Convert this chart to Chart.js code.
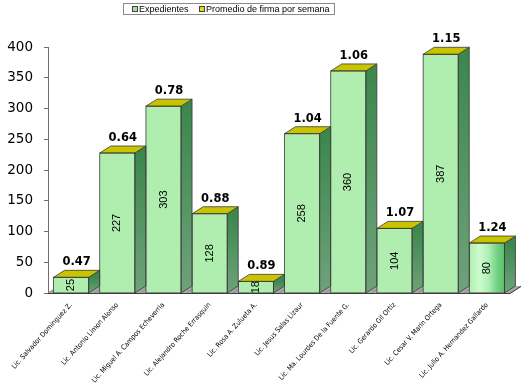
<!DOCTYPE html>
<html>
<head>
<meta charset="utf-8">
<script src="https://cdn.jsdelivr.net/npm/chart.js@4.4.0/dist/chart.umd.min.js"></script>
<style>
  html, body { margin: 0; padding: 0; background: #fff; }
  #myChart { display: block; }
</style>
</head>
<body>
<canvas id="myChart" width="527" height="388"></canvas>
<script>
let categories = [
    "Lic. Salvador Dominguez Z.",
    "Lic. Antonio Limon Alonso",
    "Lic. Miguel A. Campos Echeverria",
    "Lic. Alejandro Roche Errasquin",
    "Lic. Rosa A. Zulueta A.",
    "Lic. Jesus Salas Lizaur",
    "Lic. Ma. Lourdes De la Fuente G.",
    "Lic. Gerardo Gil Ortiz",
    "Lic. Cesar V. Marin Ortega",
    "Lic. Julio A. Hernandez Gallardo",
];
let expedientes = [25, 227, 303, 128, 18, 258, 360, 104, 387, 80];
let promedio = [0.47, 0.64, 0.78, 0.88, 0.89, 1.04, 1.06, 1.07, 1.15, 1.24];
let yTicks = [0, 50, 100, 150, 200, 250, 300, 350, 400];

// profundidad del efecto 3D
const DX = 11;
const DY = 7;

// piso gris, degradado de las caras frontales, caras laterales y etiquetas
const floorAndFaces = {
    id: "floorAndFaces",
    beforeDatasetsDraw(chart) {
        const { ctx, chartArea: a, scales } = chart;
        const base = scales.y.getPixelForValue(0);
        ctx.save();
        ctx.fillStyle = "#a8a8a8";
        ctx.beginPath();
        ctx.moveTo(a.left, base);
        ctx.lineTo(a.left + DX, base - DY);
        ctx.lineTo(a.right + DX, base - DY);
        ctx.lineTo(a.right, base);
        ctx.closePath();
        ctx.fill();
        ctx.strokeStyle = "#8c8c8c";
        ctx.lineWidth = 1;
        for (let i = 0; i <= categories.length; i++) {
            let xp = a.left + (a.right - a.left) * i / categories.length;
            ctx.beginPath();
            ctx.moveTo(xp, base);
            ctx.lineTo(xp + DX, base - DY);
            ctx.stroke();
        }
        ctx.strokeStyle = "#404040";
        ctx.beginPath();
        ctx.moveTo(a.left, base + 0.5);
        ctx.lineTo(a.right, base + 0.5);
        ctx.lineTo(a.right + DX, base - DY + 0.5);
        ctx.stroke();
        ctx.restore();

        chart.getDatasetMeta(0).data.forEach((bar) => {
            let l = bar.x - bar.width / 2;
            let g = ctx.createLinearGradient(l, 0, l + bar.width, 0);
            g.addColorStop(0, "#b0eeb0");
            g.addColorStop(0.3, "#cdfccd");
            g.addColorStop(0.55, "#aeeeb4");
            g.addColorStop(0.8, "#72d082");
            g.addColorStop(1, "#58c068");
            bar.options.backgroundColor = g;
        });
    },
    afterDatasetsDraw(chart) {
        const { ctx, scales } = chart;
        const base = scales.y.getPixelForValue(0);
        const green = chart.getDatasetMeta(0).data;
        const yellow = chart.getDatasetMeta(1).data;
        ctx.save();
        ctx.lineWidth = 0.8;
        ctx.strokeStyle = "#3a3a3a";
        green.forEach((bar, i) => {
            let l = bar.x - bar.width / 2;
            let r = bar.x + bar.width / 2;
            let top = yellow[i].y;

            // cara lateral
            let sg = ctx.createLinearGradient(0, top, 0, base);
            sg.addColorStop(0, "#3c874d");
            sg.addColorStop(1, "#6fa27a");
            ctx.fillStyle = sg;
            ctx.beginPath();
            ctx.moveTo(r, top);
            ctx.lineTo(r + DX, top - DY);
            ctx.lineTo(r + DX, base - DY);
            ctx.lineTo(r, base);
            ctx.closePath();
            ctx.fill();
            ctx.stroke();

            // cara superior (promedio)
            ctx.fillStyle = "#c8c400";
            ctx.beginPath();
            ctx.moveTo(l, top);
            ctx.lineTo(l + DX, top - DY);
            ctx.lineTo(r + DX, top - DY);
            ctx.lineTo(r, top);
            ctx.closePath();
            ctx.fill();
            ctx.stroke();

            // contorno frontal
            ctx.strokeRect(l, top, bar.width, base - top);
        });

        // etiquetas de valores
        ctx.fillStyle = "#000";
        green.forEach((bar, i) => {
            let top = yellow[i].y;
            ctx.font = "bold 11.5px 'DejaVu Sans'";
            ctx.textAlign = "center";
            ctx.textBaseline = "middle";
            ctx.fillText(promedio[i].toFixed(2), bar.x + DX / 2, top - DY - 8);

            ctx.save();
            ctx.translate(bar.x, (bar.y + bar.base) / 2);
            ctx.rotate(-Math.PI / 2);
            ctx.font = "11px 'Liberation Sans'";
            ctx.fillText(String(expedientes[i]), 0, 0);
            ctx.restore();
        });
        ctx.restore();
    },
    afterDraw(chart) {
        // leyenda con marco
        const { ctx } = chart;
        const sets = chart.data.datasets;
        ctx.save();
        ctx.fillStyle = "#fff";
        ctx.fillRect(123.5, 3.5, 211, 11);
        ctx.strokeStyle = "#8a8a8a";
        ctx.lineWidth = 1;
        ctx.strokeRect(123.5, 3.5, 211, 11);
        ctx.font = "9px 'Liberation Sans'";
        ctx.textBaseline = "middle";
        ctx.textAlign = "left";
        let xs = [132, 199];
        sets.forEach((ds, i) => {
            ctx.fillStyle = ds.legendColor;
            ctx.fillRect(xs[i] + 0.5, 6.5, 5, 5);
            ctx.strokeStyle = "#404040";
            ctx.strokeRect(xs[i] + 0.5, 6.5, 5, 5);
            ctx.fillStyle = "#000";
            ctx.fillText(ds.label, xs[i] + 7, 9.5);
        });
        ctx.restore();
    },
};

let chart = new Chart("myChart", {
    type: "bar",
    data: {
        labels: categories,
        datasets: [
            {
                label: "Expedientes",
                data: expedientes,
                backgroundColor: "#a8eaa8",
                legendColor: "#9fe59f",
                borderWidth: 0,
                stack: "s",
                barPercentage: 0.76,
                categoryPercentage: 1,
            },
            {
                label: "Promedio de firma por semana",
                data: promedio,
                backgroundColor: "#c8c400",
                legendColor: "#e0e000",
                borderWidth: 0,
                stack: "s",
                barPercentage: 0.76,
                categoryPercentage: 1,
            },
        ],
    },
    options: {
        responsive: false,
        animation: false,
        devicePixelRatio: 1,
        layout: { padding: { top: 47, right: 17, left: 0, bottom: 0 } },
        plugins: {
            legend: { display: false },
            tooltip: { enabled: false },
        },
        scales: {
            x: {
                stacked: true,
                grid: { display: false },
                border: { display: false },
                ticks: {
                    autoSkip: false,
                    minRotation: 48,
                    maxRotation: 48,
                    padding: 0,
                    color: "#000",
                    font: { family: "'Liberation Sans Narrow', 'DejaVu Sans Condensed'", size: 7 },
                },
                afterFit(scale) {
                    scale.height = 95;
                },
            },
            y: {
                stacked: true,
                min: 0,
                max: 400,
                afterBuildTicks(scale) {
                    scale.ticks = yTicks.map((v) => ({ value: v }));
                },
                grid: {
                    drawOnChartArea: false,
                    drawTicks: true,
                    tickLength: 4,
                    color: "#6e6e6e",
                },
                border: { display: true, color: "#6e6e6e" },
                ticks: {
                    padding: 11,
                    color: "#000",
                    font: { family: "'DejaVu Sans'", size: 13.5 },
                },
                afterFit(scale) {
                    scale.width = 48;
                },
            },
        },
    },
    plugins: [floorAndFaces],
});
</script>
</body>
</html>
